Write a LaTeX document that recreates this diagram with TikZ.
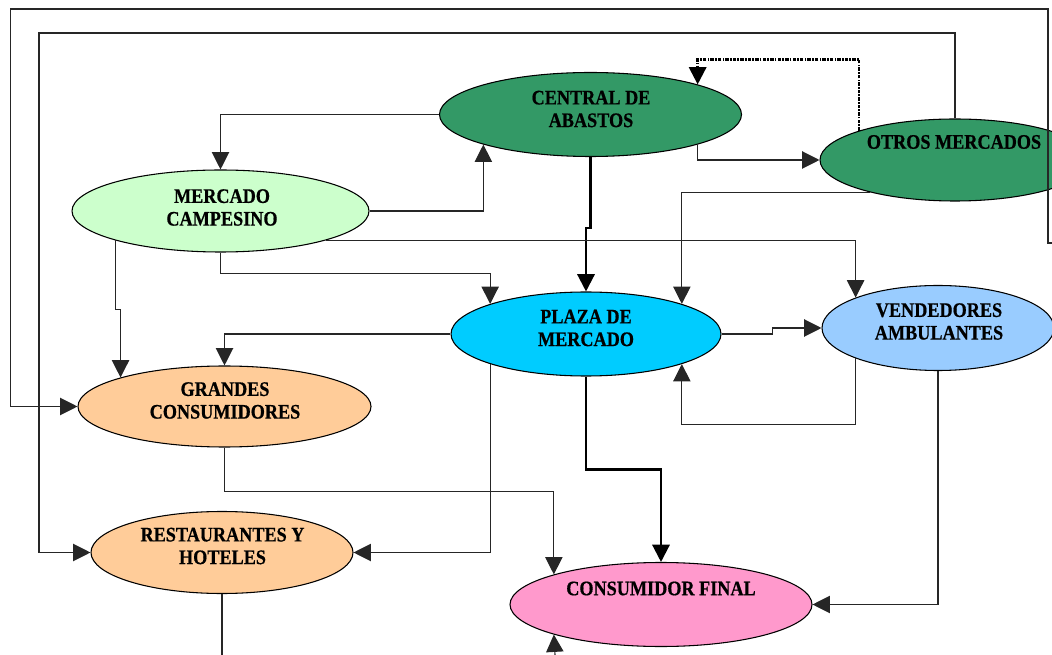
\documentclass[tikz,border=0pt]{standalone}
\usepackage{fontspec}
\setmainfont{Liberation Serif}
\newfontfamily\lblfont[FakeStretch=0.88,FakeBold=0.6]{Liberation Serif}
\usetikzlibrary{arrows.meta,calc,shapes.geometric}
\definecolor{cgreen}{RGB}{51,153,102}
\definecolor{clgreen}{RGB}{204,255,204}
\definecolor{ccyan}{RGB}{0,204,255}
\definecolor{clblue}{RGB}{153,204,255}
\definecolor{corange}{RGB}{255,204,153}
\definecolor{cpink}{RGB}{255,153,204}
\tikzset{
  ell/.style={shape=ellipse, draw=black, line width=0.8pt, inner sep=0pt},
  lbl/.style={font=\lblfont\fontsize{15.5}{17}\selectfont\bfseries, align=center, inner sep=0pt},
  con/.style={line width=0.85pt, draw=black!85},
  arr/.style={con, -{Triangle[length=13pt,width=13pt]}},
  thickarr/.style={line width=1.7pt, draw=black, -{Triangle[length=13pt,width=13pt]}},
  dotarr/.style={line width=1.8pt, draw=black, dash pattern=on 2.6pt off 0.9pt on 1.2pt off 0.9pt, -{Triangle[length=13pt,width=13pt,sep=0pt]}},
}
\begin{document}
\begin{tikzpicture}[x=0.75pt,y=-0.75pt]
\useasboundingbox (0,0) rectangle (1052,655);
% ellipses
\node[ell, fill=cgreen, minimum width=0.75*302pt, minimum height=0.75*84pt] (ca) at (590.5,114.5) {};
\node[ell, fill=cgreen, minimum width=0.75*270pt, minimum height=0.75*82pt] (om) at (955,160) {};
\node[ell, fill=clgreen, minimum width=0.75*297pt, minimum height=0.75*82pt] (mc) at (220.5,211) {};
\node[ell, fill=ccyan, minimum width=0.75*270pt, minimum height=0.75*84pt] (pm) at (586,334) {};
\node[ell, fill=clblue, minimum width=0.75*232pt, minimum height=0.75*85pt] (va) at (938,328) {};
\node[ell, fill=corange, minimum width=0.75*293pt, minimum height=0.75*81pt] (gc) at (224.5,406.5) {};
\node[ell, fill=corange, minimum width=0.75*262pt, minimum height=0.75*82pt] (rh) at (222,552.5) {};
\node[ell, fill=cpink, minimum width=0.75*302pt, minimum height=0.75*84pt] (cf) at (661,604.5) {};
% labels
\node[lbl] (ca-t) at (591,109) {CENTRAL DE\\ABASTOS};
\node[lbl] (om-t) at (954,142) {OTROS MERCADOS};
\node[lbl] (mc-t) at (222,207.5) {MERCADO\\CAMPESINO};
\node[lbl] (pm-t) at (586,328) {PLAZA DE\\MERCADO};
\node[lbl] (va-t) at (939,321.5) {VENDEDORES\\AMBULANTES};
\node[lbl] (gc-t) at (225,400.5) {GRANDES\\CONSUMIDORES};
\node[lbl] (rh-t) at (222.5,546) {RESTAURANTES Y\\HOTELES};
\node[lbl] (cf-t) at (661,588.5) {CONSUMIDOR FINAL};
% free ends
\coordinate (offR) at (1052,243);
\coordinate (offB1) at (222,655);
\coordinate (offB2) at (555,655);
% connectors
\draw[arr] (ca.west) -| (mc.north);
\draw[arr] (mc.east) -| (ca.south west);
\draw[arr] (ca.south east) |- (om.west);
\draw[dotarr] (om.north west) |- ($(ca.north east)+(0,-25)$) -- (ca.north east);
\draw[arr] (om.north) |- (39,33) |- (rh.west);
\draw[arr] (offR) -- (1048,243) |- (10.5,9) |- (gc.west);
\draw[thickarr] (ca.south) -- ++(0,71) -| (pm.north);
\draw[arr] (om.201) -| (pm.north east);
\draw[arr] (mc.south east) -| (va.north west);
\draw[arr] (mc.south west) -- ++(0,69) -| (gc.north west);
\draw[arr] (mc.south) -- ++(0,21) -| (pm.north west);
\draw[arr] (pm.west) -| (gc.north);
\draw[arr] (pm.south west) |- (rh.east);
\draw[arr] (gc.south) -- ++(0,44) -| (cf.north west);
\draw[thickarr] (pm.south) -- ++(0,93) -| (cf.north);
\draw[arr] (pm.east) -- ++(51,0) |- (va.west);
\draw[arr] (va.south west) -- ++(0,66) -| (pm.south east);
\draw[arr] (va.south) |- (cf.east);
\draw[con] (rh.south) -- (offB1);
\draw[arr] (offB2) -- (cf.south west);
\end{tikzpicture}
\end{document}
